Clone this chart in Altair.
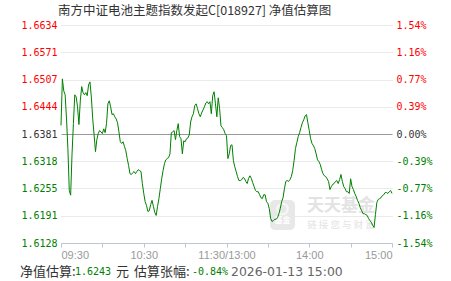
import altair as alt
import pandas as pd

# ---------------- data ----------------
title_text = "南方中证电池主题指数发起C[018927] 净值估算图"
prev_nav = 1.6381

# estimated NAV, one value per trading minute (09:30 .. 11:30, 13:01 .. 15:00)
nav = [
    1.6401, 1.6509, 1.6481, 1.6472, 1.6416, 1.6347, 1.6250, 1.6239, 1.6335, 1.6405,
    1.6472, 1.6467, 1.6444, 1.6403, 1.6458, 1.6491, 1.6477, 1.6472, 1.6477, 1.6470,
    1.6495, 1.6502, 1.6467, 1.6416, 1.6379, 1.6340, 1.6368, 1.6382, 1.6389, 1.6386,
    1.6382, 1.6393, 1.6384, 1.6405, 1.6451, 1.6458, 1.6444, 1.6426, 1.6428, 1.6421,
    1.6416, 1.6407, 1.6386, 1.6363, 1.6359, 1.6363, 1.6352, 1.6342, 1.6324, 1.6308,
    1.6289, 1.6287, 1.6291, 1.6294, 1.6289, 1.6294, 1.6298, 1.6296, 1.6294, 1.6266,
    1.6243, 1.6224, 1.6215, 1.6201, 1.6203, 1.6217, 1.6227, 1.6213, 1.6199, 1.6192,
    1.6213, 1.6231, 1.6254, 1.6277, 1.6296, 1.6312, 1.6321, 1.6324, 1.6326, 1.6335,
    1.6384, 1.6386, 1.6389, 1.6368, 1.6389, 1.6405, 1.6375, 1.6370, 1.6335, 1.6365,
    1.6363, 1.6370, 1.6372, 1.6379, 1.6409, 1.6421, 1.6428, 1.6447, 1.6451, 1.6440,
    1.6428, 1.6421, 1.6430, 1.6437, 1.6444, 1.6453, 1.6456, 1.6451, 1.6456, 1.6428,
    1.6470, 1.6479, 1.6451, 1.6421, 1.6465, 1.6440, 1.6400, 1.6396, 1.6391, 1.6382,
    1.6377,
    1.6324, 1.6335, 1.6354, 1.6356, 1.6319, 1.6305, 1.6294, 1.6282, 1.6273, 1.6273,
    1.6275, 1.6280, 1.6278, 1.6271, 1.6266, 1.6278, 1.6284, 1.6278, 1.6268, 1.6259,
    1.6250, 1.6247, 1.6247, 1.6240, 1.6233, 1.6231, 1.6240, 1.6240, 1.6224, 1.6220,
    1.6208, 1.6185, 1.6178, 1.6180, 1.6183, 1.6183, 1.6187, 1.6196, 1.6208, 1.6224,
    1.6233, 1.6254, 1.6271, 1.6273, 1.6271, 1.6275, 1.6282, 1.6296, 1.6319, 1.6347,
    1.6361, 1.6375, 1.6384, 1.6396, 1.6407, 1.6414, 1.6423, 1.6426, 1.6407, 1.6389,
    1.6370, 1.6359, 1.6354, 1.6347, 1.6335, 1.6321, 1.6317, 1.6310, 1.6298, 1.6289,
    1.6284, 1.6282, 1.6277, 1.6271, 1.6252, 1.6259, 1.6264, 1.6266, 1.6271, 1.6273,
    1.6266, 1.6275, 1.6287, 1.6271, 1.6259, 1.6254, 1.6247, 1.6247, 1.6243, 1.6277,
    1.6259, 1.6252, 1.6243, 1.6236, 1.6227, 1.6220, 1.6210, 1.6203, 1.6196, 1.6196,
    1.6194, 1.6192, 1.6185, 1.6180, 1.6176, 1.6169, 1.6164, 1.6194, 1.6222, 1.6229,
    1.6231, 1.6233, 1.6238, 1.6240, 1.6245, 1.6245, 1.6243, 1.6247, 1.6250, 1.6243,
]

y_ticks = [1.6128, 1.6191, 1.6255, 1.6318, 1.6381, 1.6444, 1.6507, 1.6571, 1.6634]
pct_labels = ["-1.54%", "-1.16%", "-0.77%", "-0.39%", "0.00%", "0.39%", "0.77%", "1.16%", "1.54%"]
x_ticks = [0, 30, 60, 90, 120, 150, 180, 210, 240]
x_labels = ["09:30", "", "10:30", "", "11:30/13:00", "", "14:00", "", "15:00"]

footer_label1 = "净值估算:"
footer_nav = "1.6243"
footer_unit = "元"
footer_label2 = "估算张幅:"
footer_pct = "-0.84%"
footer_time = "2026-01-13 15:00"

wm_brand = "天天基金"
wm_slogan = "链 接 您 与 财 富"
wm_badge = "基金"

df = pd.DataFrame({"i": list(range(len(nav))), "nav": nav})

# ---------------- styling ----------------
RED = "#ff0000"
GREEN = "#008000"
DARK = "#333333"
MONO = "DejaVu Sans Mono"
CJK = "Noto Sans CJK SC"
WM = "#e3e3e3"

eps = 0.00001
label_color = {
    "condition": [
        {"test": f"datum.value > {prev_nav + eps}", "value": RED},
        {"test": f"datum.value < {prev_nav - eps}", "value": GREEN},
    ],
    "value": DARK,
}
zero_test = f"abs(datum.value - {prev_nav}) < {eps}"
grid_color = {"condition": {"test": zero_test, "value": "#999999"}, "value": "#d4d4d4"}
grid_dash = {"condition": {"test": zero_test, "value": []}, "value": [1, 1]}

x_expr = "".join(
    f"datum.value == {v} ? '{lab}' : " for v, lab in zip(x_ticks, x_labels)
) + "''"
pct_expr = "".join(
    f"abs(datum.value - {v}) < {eps} ? '{lab}' : " for v, lab in zip(y_ticks, pct_labels)
) + "''"

x_enc = alt.X(
    "i:Q",
    scale=alt.Scale(domain=[0, 240], nice=False, zero=False),
    axis=alt.Axis(
        values=x_ticks,
        labelExpr=x_expr,
        grid=False,
        domainColor="#bcc7d3",
        tickColor="#bcc7d3",
        tickSize=4,
        labelColor="#999999",
        labelFont="Liberation Sans",
        labelFontSize=11,
        labelPadding=2,
        title=None,
    ),
)
y_scale = alt.Scale(domain=[y_ticks[0], y_ticks[-1]], nice=False, zero=False)

left_axis = alt.Axis(
    orient="left",
    values=y_ticks,
    format=".4f",
    labelFont=MONO,
    labelFontSize=10,
    labelColor=label_color,
    labelPadding=4,
    ticks=False,
    domain=False,
    grid=True,
    gridColor=grid_color,
    gridDash=grid_dash,
    gridWidth=1,
    title=None,
)
right_axis = alt.Axis(
    orient="right",
    values=y_ticks,
    labelExpr=pct_expr,
    labelFont=MONO,
    labelFontSize=10,
    labelColor=label_color,
    labelPadding=4,
    ticks=False,
    domain=False,
    grid=False,
    title=None,
)

line = alt.Chart(df).mark_line(color=GREEN, strokeWidth=1).encode(
    x=x_enc, y=alt.Y("nav:Q", scale=y_scale, axis=left_axis)
)
line_right = alt.Chart(df).mark_line(strokeOpacity=0).encode(
    x=x_enc, y=alt.Y("nav:Q", scale=y_scale, axis=right_axis)
)


def text_layer(txt, x, y, color, font, size, align="left", weight="normal"):
    return alt.Chart(pd.DataFrame({"t": [txt]})).mark_text(
        align=align, baseline="middle", font=font, fontSize=size,
        color=color, fontWeight=weight,
    ).encode(x=alt.value(x), y=alt.value(y), text="t:N")


wm_box = alt.Chart(pd.DataFrame({"t": [wm_brand]})).mark_rect(
    color="#e8e8e8", cornerRadius=5
).encode(x=alt.value(209), x2=alt.value(234), y=alt.value(175), y2=alt.value(205))
wm_icon = alt.Chart(pd.DataFrame({"t": [wm_brand]})).mark_point(
    shape="circle", filled=False, color="#ffffff", strokeWidth=2, size=110
).encode(x=alt.value(221.5), y=alt.value(184))

layers = [
    wm_box,
    wm_icon,
    text_layer(wm_badge, 221.5, 196, "#ffffff", CJK, 8, align="center", weight="bold"),
    text_layer(wm_brand, 280, 181, WM, CJK, 17, align="center", weight="bold"),
    text_layer(wm_slogan, 280, 200, WM, CJK, 9.5, align="center"),
    line,
    line_right,
    text_layer(title_text, -3, -14, DARK, CJK, 12.5),
    text_layer(footer_label1, -41, 247, DARK, CJK, 13),
    text_layer(footer_nav, 14, 247, GREEN, MONO, 10),
    text_layer(footer_unit, 55, 247, DARK, CJK, 13),
    text_layer(footer_label2, 73, 247, DARK, CJK, 13),
    text_layer(footer_pct, 131, 247, GREEN, MONO, 10),
    text_layer(footer_time, 170, 247, "#666666", "DejaVu Sans", 12.4),
]

chart = (
    alt.layer(*layers)
    .resolve_scale(y="independent")
    .properties(
        width=331,
        height=218,
        autosize="none",
        padding={"left": 61, "top": 25, "right": 59, "bottom": 38},
        background="white",
    )
    .configure_view(stroke=None)
)

chart.save("out.html", embed_options={"renderer": "svg", "actions": False})
